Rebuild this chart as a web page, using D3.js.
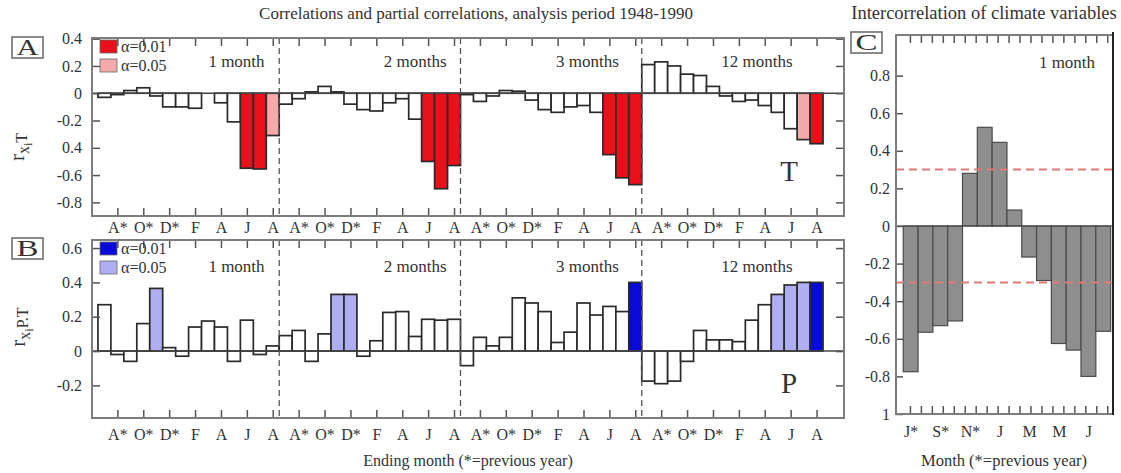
<!DOCTYPE html>
<html>
<head>
<meta charset="utf-8">
<script src="https://cdn.jsdelivr.net/npm/d3@7"></script>
<style>
  body { margin: 0; background: #fff; }
  svg { display: block; font-family: "Liberation Serif", "DejaVu Serif", serif; }
</style>
</head>
<body>
<svg width="1121" height="473"></svg>
<script>
// months of the analysis window, July of previous year (*) to August
const monthLabels = ['J*','A*','S*','O*','N*','D*','J','F','M','A','M','J','J','A'];
const windowLabels = ['1 month','2 months','3 months','12 months'];

// panel A : r(x_i, T) for the 1, 2, 3 and 12 month windows
const corrT1m  = [-0.03,-0.01, 0.02, 0.04,-0.02,-0.10,-0.10,-0.11, 0.00,-0.07,-0.21,-0.55,-0.555,-0.31];
const corrT2m  = [-0.08,-0.04, 0.01, 0.05, 0.01,-0.08,-0.12,-0.13,-0.07,-0.04,-0.19,-0.50,-0.70,-0.53];
const corrT3m  = [-0.01,-0.06,-0.02, 0.02, 0.015,-0.05,-0.12,-0.14,-0.10,-0.09,-0.14,-0.45,-0.62,-0.67];
const corrT12m = [ 0.21, 0.23, 0.20, 0.14, 0.13, 0.05,-0.02,-0.06,-0.05,-0.09,-0.14,-0.26,-0.34,-0.37];
// bars significant at alpha=0.01 / 0.05 (index into monthLabels)
const sigT01 = [[11,12],[11,12,13],[11,12,13],[13]];
const sigT05 = [[13],[],[],[12]];

// panel B : partial r(x_i, P.T)
const corrP1m  = [ 0.27,-0.02,-0.06, 0.16, 0.365, 0.02,-0.03, 0.14, 0.175, 0.14,-0.06, 0.18,-0.02, 0.03];
const corrP2m  = [ 0.09, 0.12,-0.06, 0.10, 0.33, 0.33,-0.03, 0.06, 0.225, 0.23, 0.085, 0.185, 0.18, 0.185];
const corrP3m  = [-0.085, 0.08, 0.03, 0.08, 0.31, 0.28, 0.23, 0.05, 0.11, 0.28, 0.21, 0.26, 0.23, 0.40];
const corrP12m = [-0.175,-0.19,-0.175,-0.06, 0.12, 0.065, 0.065, 0.055, 0.18, 0.27, 0.33, 0.385, 0.40, 0.40];
const sigP01 = [[],[],[13],[13]];
const sigP05 = [[4],[4,5],[],[10,11,12]];

// panel C : intercorrelation of T and P, 1 month
const climateCorr = [-0.775,-0.565,-0.53,-0.505, 0.28, 0.525, 0.445, 0.085,-0.165,-0.29,-0.625,-0.66,-0.80,-0.56];
const critR = 0.3;

// tick labels (kept as printed in the figure)
const tickValsA = [0.4, 0.2, 0, -0.2, -0.4, -0.6, -0.8];
const tickLabelsA = ['0.4','0.2','0','-0.2','0.4','-0.6','-0.8'];
const tickValsB = [0.6, 0.4, 0.2, 0, -0.2];
const tickLabelsB = ['0.6','0.4','0.2','0','-0.2'];
const tickValsC = [0.8, 0.6, 0.4, 0.2, 0, -0.2, -0.4, -0.6, -0.8, -1];
const tickLabelsC = ['0.8','0.6','0.4','0.2','0','-0.2','-0.4','-0.6','-0.8','1'];

const svg = d3.select('svg');
const NB = monthLabels.length;
const FRAME = '#7d7d7d';
const TICK = '#555';

svg.append('text')
  .attr('x', 476).attr('y', 19)
  .attr('text-anchor', 'middle')
  .style('font-size', '17px').attr('fill', '#333')
  .text('Correlations and partial correlations, analysis period 1948-1990');

svg.append('text')
  .attr('x', 468).attr('y', 466)
  .attr('text-anchor', 'middle')
  .style('font-size', '16px').attr('fill', '#333')
  .text('Ending month (*=previous year)');

const xMain = d3.scaleLinear().domain([-0.46, 57.62]).range([92, 844]);

function styleAxis(g, fs){
  g.select('.domain').remove();
  g.selectAll('.tick line').attr('stroke', TICK).attr('stroke-width', 1.5);
  g.selectAll('.tick text').attr('fill', '#333').style('font-size', fs + 'px')
    .style('font-family', '"Liberation Serif", serif');
}

function letterBox(x, y, letter){
  svg.append('rect').attr('x', x).attr('y', y).attr('width', 31).attr('height', 21)
    .attr('fill', '#fff').attr('stroke', '#666').attr('stroke-width', 1.5);
  svg.append('text').attr('x', x + 15.5).attr('y', y + 18)
    .attr('text-anchor', 'middle').style('font-size', '24px').attr('fill', '#333')
    .attr('textLength', 22).attr('lengthAdjust', 'spacingAndGlyphs')
    .text(letter);
}

function drawMain(p){
  const y = p.y;
  const [x0, x1] = xMain.range();
  const [yb, yt] = y.range();
  const g = svg.append('g');

  const bars = p.series.flatMap((vals, w) => vals.map((v, i) => ({
    idx: w * NB + i, v,
    fill: p.sig01[w].includes(i) ? p.col01 : (p.sig05[w].includes(i) ? p.col05 : '#fff')
  })));

  g.selectAll('rect.bar').data(bars).join('rect')
    .attr('class', 'bar')
    .attr('x', d => xMain(d.idx))
    .attr('width', d => xMain(d.idx + 1) - xMain(d.idx))
    .attr('y', d => y(Math.max(0, d.v)))
    .attr('height', d => Math.abs(y(d.v) - y(0)))
    .attr('fill', d => d.fill)
    .attr('stroke', '#2a2a2a').attr('stroke-width', 1.7);

  // zero line
  g.append('line').attr('x1', x0).attr('x2', x1).attr('y1', y(0)).attr('y2', y(0))
    .attr('stroke', '#444').attr('stroke-width', 1.5);

  // window separators
  g.selectAll('line.sep').data(d3.range(1, windowLabels.length)).join('line')
    .attr('class', 'sep')
    .attr('x1', d => xMain(d * NB)).attr('x2', d => xMain(d * NB))
    .attr('y1', yt).attr('y2', yb)
    .attr('stroke', '#555').attr('stroke-width', 1.3).attr('stroke-dasharray', '6,4');

  const monthTicks = d3.range(1, NB * windowLabels.length, 2);
  const xBottom = d3.axisBottom(xMain)
    .tickValues(monthTicks.map(i => i + 0.5))
    .tickFormat((d, i) => monthLabels[monthTicks[i] % NB])
    .tickSize(-8).tickPadding(p.xPad);
  g.append('g').attr('transform', `translate(0,${yb})`).call(xBottom).call(a => styleAxis(a, 16));

  const xTop = d3.axisTop(xMain).tickValues(monthTicks.map(i => i + 0.5)).tickFormat('').tickSize(-8);
  g.append('g').attr('transform', `translate(0,${yt})`).call(xTop).call(a => styleAxis(a, 16));

  const yLeft = d3.axisLeft(y).tickValues(p.tickVals)
    .tickFormat((d, i) => p.tickLabels[i]).tickSize(-8).tickPadding(10);
  g.append('g').attr('transform', `translate(${x0},0)`).call(yLeft).call(a => styleAxis(a, 16));

  const yRight = d3.axisRight(y).tickValues(p.tickVals).tickFormat('').tickSize(-8);
  g.append('g').attr('transform', `translate(${x1},0)`).call(yRight).call(a => styleAxis(a, 16));

  g.append('rect').attr('x', x0).attr('y', yt).attr('width', x1 - x0).attr('height', yb - yt)
    .attr('fill', 'none').attr('stroke', FRAME).attr('stroke-width', 2);

  // window labels
  const labelPos = [10.7, 10.5, 9.8, 8.9];
  g.selectAll('text.win').data(windowLabels).join('text')
    .attr('class', 'win')
    .attr('x', (d, w) => xMain(w * NB + labelPos[w]))
    .attr('y', p.winY)
    .attr('text-anchor', 'middle').style('font-size', '17px').attr('fill', '#333')
    .text(d => d);

  // legend
  const leg = g.append('g');
  [[p.col01, 'α=0.01'], [p.col05, 'α=0.05']].forEach(([c, t], k) => {
    leg.append('rect').attr('x', 100).attr('y', p.legY + k * 19).attr('width', 17).attr('height', 13)
      .attr('fill', c).attr('stroke', '#666').attr('stroke-width', 0.8);
    leg.append('text').attr('x', 121).attr('y', p.legY + k * 19 + 12)
      .style('font-size', '16px').attr('fill', '#333').text(t);
  });

  // climate variable letter
  g.append('text').attr('x', 789).attr('y', p.varY).attr('text-anchor', 'middle')
    .style('font-size', '29px').attr('fill', '#333').text(p.varName);

  // y axis title r_{x_i}...
  const yt2 = g.append('text')
    .attr('transform', `translate(${p.titleX},${p.titleY}) rotate(-90)`)
    .attr('text-anchor', 'middle').attr('fill', '#333').style('font-size', '21px');
  yt2.append('tspan').text('r');
  yt2.append('tspan').attr('dy', 5).style('font-size', '16px').text('x');
  yt2.append('tspan').attr('dy', 3).style('font-size', '12px').text('i');
  yt2.append('tspan').attr('dy', -5).style('font-size', '16px').text(p.sub);

  letterBox(12, p.boxY, p.letter);
}

drawMain({
  y: d3.scaleLinear().domain([-0.9, 0.405]).range([216, 38]),
  series: [corrT1m, corrT2m, corrT3m, corrT12m],
  sig01: sigT01, sig05: sigT05,
  col01: '#e8101a', col05: '#f2aaaa',
  tickVals: tickValsA, tickLabels: tickLabelsA,
  xPad: 6, winY: 67, legY: 40, varY: 181, varName: 'T',
  titleX: 24, titleY: 147, sub: 'T', letter: 'A', boxY: 37
});

drawMain({
  y: d3.scaleLinear().domain([-0.39, 0.647]).range([418, 240]),
  series: [corrP1m, corrP2m, corrP3m, corrP12m],
  sig01: sigP01, sig05: sigP05,
  col01: '#0a0ad8', col05: '#aeaef0',
  tickVals: tickValsB, tickLabels: tickLabelsB,
  xPad: 11, winY: 272, legY: 242, varY: 393, varName: 'P',
  titleX: 25, titleY: 327, sub: 'P.T', letter: 'B', boxY: 238
});

// ---- panel C
const xC = d3.scaleLinear().domain([-0.49, 14.16]).range([896, 1113]);
const yC = d3.scaleLinear().domain([-1, 1.016]).range([414, 35]);
const gC = svg.append('g');

gC.append('text').attr('x', 984).attr('y', 19).attr('text-anchor', 'middle')
  .style('font-size', '18.5px').attr('fill', '#333')
  .text('Intercorrelation of climate variables');

gC.selectAll('rect.cbar').data(climateCorr).join('rect')
  .attr('class', 'cbar')
  .attr('x', (d, i) => xC(i))
  .attr('width', (d, i) => xC(i + 1) - xC(i))
  .attr('y', d => yC(Math.max(0, d)))
  .attr('height', d => Math.abs(yC(d) - yC(0)))
  .attr('fill', '#8e8e8e').attr('stroke', '#4a4a4a').attr('stroke-width', 1.2);

gC.append('line').attr('x1', 896).attr('x2', 1113).attr('y1', yC(0)).attr('y2', yC(0))
  .attr('stroke', '#444').attr('stroke-width', 1.2);

gC.selectAll('line.crit').data([critR, -critR]).join('line')
  .attr('class', 'crit')
  .attr('x1', 896).attr('x2', 1113)
  .attr('y1', d => yC(d)).attr('y2', d => yC(d))
  .attr('stroke', '#e07b7b').attr('stroke-width', 2).attr('stroke-dasharray', '8,5');

const cMonthTicks = d3.range(0, NB, 2);
gC.append('g').attr('transform', 'translate(0,414)')
  .call(d3.axisBottom(xC).tickValues(cMonthTicks.map(i => i + 0.5))
    .tickFormat((d, i) => monthLabels[cMonthTicks[i]]).tickSize(0).tickPadding(12))
  .call(a => styleAxis(a, 16));

const cMinor = d3.range(0.45, 13.8, 0.74);
gC.append('g').attr('transform', 'translate(0,414)')
  .call(d3.axisBottom(xC).tickValues(cMinor).tickFormat('').tickSize(-8))
  .call(a => styleAxis(a, 16));
gC.append('g').attr('transform', 'translate(0,35)')
  .call(d3.axisTop(xC).tickValues(cMinor).tickFormat('').tickSize(-8))
  .call(a => styleAxis(a, 16));

gC.append('g').attr('transform', 'translate(896,0)')
  .call(d3.axisLeft(yC).tickValues(tickValsC).tickFormat((d, i) => tickLabelsC[i])
    .tickSize(-7).tickPadding(6))
  .call(a => styleAxis(a, 16));

gC.append('rect').attr('x', 896).attr('y', 35).attr('width', 217).attr('height', 379)
  .attr('fill', 'none').attr('stroke', FRAME).attr('stroke-width', 2);
gC.append('line').attr('x1', 1113).attr('x2', 1113).attr('y1', 32).attr('y2', 415)
  .attr('stroke', '#222').attr('stroke-width', 2);

gC.append('text').attr('x', 1067).attr('y', 68).attr('text-anchor', 'middle')
  .style('font-size', '17px').attr('fill', '#333').text('1 month');

gC.append('text').attr('x', 1004).attr('y', 466).attr('text-anchor', 'middle')
  .style('font-size', '16.5px').attr('fill', '#333').text('Month (*=previous year)');

letterBox(851, 32, 'C');
</script>
</body>
</html>
